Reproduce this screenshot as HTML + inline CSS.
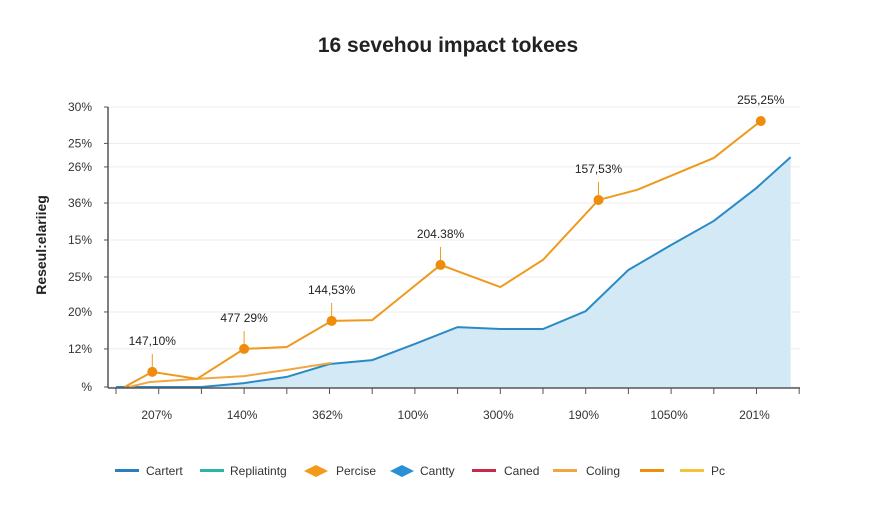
<!DOCTYPE html>
<html><head><meta charset="utf-8"><style>
body{margin:0;background:#fff;font-family:"Liberation Sans",sans-serif}
</style></head><body>
<svg id="c" width="896" height="512" xmlns="http://www.w3.org/2000/svg" font-family="Liberation Sans, sans-serif">
<rect width="896" height="512" fill="#fff"/>
<text x="448" y="52" text-anchor="middle" font-size="21" font-weight="bold" fill="#222">16 sevehou impact tokees</text>
<text transform="translate(46,245) rotate(-90)" text-anchor="middle" font-size="14" font-weight="bold" fill="#222">Reseul:elariieg</text>
<g id="grid"></g><g id="marks"></g><g id="axes"></g>
<g font-size="12" fill="#333">
<g><rect x="115" y="469" width="24" height="3" fill="#2a7fc0"/><text x="146" y="475">Cartert</text></g>
<g><rect x="200" y="469" width="24" height="3" fill="#2bb5a8"/><text x="230" y="475">Repliatintg</text></g>
<g><path d="M304,471 l12,-6 l12,6 l-12,6z" fill="#f29a1a"/><text x="336" y="475">Percise</text></g>
<g><path d="M390,471 l12,-6 l12,6 l-12,6z" fill="#2b8fd6"/><text x="420" y="475">Cantty</text></g>
<g><rect x="472" y="469" width="24" height="3" fill="#c8284e"/><text x="504" y="475">Caned</text></g>
<g><rect x="553" y="469" width="24" height="3" fill="#f2a640"/><text x="586" y="475">Coling</text></g>
<g><rect x="640" y="469" width="24" height="3" fill="#ef8f10"/></g>
<g><rect x="680" y="469" width="24" height="3" fill="#f3c33a"/><text x="711" y="475">Pc</text></g>
</g>
</svg>
<script>
const yTickVals=[100,87,78.6,65.7,52.5,39.3,26.8,13.6,0];
const yTickLabels=["30%","25%","26%","36%","15%","25%","20%","12%","%"];
const xTickLabels=["207%","140%","362%","100%","300%","190%","1050%","201%"];
const blueX=[0,2,3,4,5,6,7,8,9,10,11,12,13,14,15,15.8];
const blueY=[0,0,1.4,3.6,8.2,9.6,15.4,21.4,20.7,20.7,27.1,41.8,50.7,59.3,71.1,82.1];
const orangeX=[0.2,0.85,1.9,3,4,5.05,6,7.6,9,10,11.3,12.2,14,15.1];
const orangeY=[0,5.4,2.9,13.6,14.3,23.6,23.9,43.6,35.7,45.4,66.8,70.4,81.8,95];
const lowX=[0.3,0.8,1.9,3,4,5.05];
const lowY=[0,1.8,2.9,3.9,6.1,8.6];
const dotIdx=[1,3,5,7,10,13];
const dotLabels=["147,10%","477 29%","144,53%","204.38%","157,53%","255,25%"];
const NS="http://www.w3.org/2000/svg";
const X=i=>116+i*42.7, Y=v=>387-v*2.8;
function mk(p,t,a){const e=document.createElementNS(NS,t);for(const k in a)e.setAttribute(k,a[k]);p.appendChild(e);return e;}
const grid=document.getElementById('grid'),marks=document.getElementById('marks'),axes=document.getElementById('axes');
yTickVals.forEach((v,i)=>{
 const l=mk(grid,'line',{x1:108,x2:800,y1:Y(v),y2:Y(v),stroke:'#ececec','stroke-width':1});
 
 
 const t=mk(axes,'text',{x:92,y:Y(v)+4,'text-anchor':'end','font-size':12,fill:'#333'});t.textContent=yTickLabels[i];
 
 
 mk(axes,'line',{x1:104,x2:108,y1:Y(v),y2:Y(v),stroke:'#555'});
});
const ya=mk(axes,'line',{x1:108,x2:108,y1:107,y2:388,stroke:'#555','stroke-width':1.5});


const xa=mk(axes,'line',{x1:108,x2:800,y1:388,y2:388,stroke:'#555','stroke-width':1.5});


for(let i=0;i<=16;i++)mk(axes,'line',{x1:X(i),x2:X(i),y1:388,y2:394,stroke:'#555'});
xTickLabels.forEach((s,k)=>{const t=mk(axes,'text',{x:X(1+2*k)-2,y:419,'text-anchor':'middle','font-size':12,fill:'#333'});t.textContent=s;
 
 });
const pts=(xs,ys)=>xs.map((x,i)=>X(x)+','+Y(ys[i])).join(' ');
const area=mk(marks,'polygon',{points:X(blueX[0])+','+Y(0)+' '+pts(blueX,blueY)+' '+X(blueX[blueX.length-1])+','+Y(0),fill:'#d3eaf6'});


const bl=mk(marks,'polyline',{points:pts(blueX,blueY),fill:'none',stroke:'#2a8ac6','stroke-width':2});


const lo=mk(marks,'polyline',{points:pts(lowX,lowY),fill:'none',stroke:'#f2a640','stroke-width':2});


const ol=mk(marks,'polyline',{points:pts(orangeX,orangeY),fill:'none',stroke:'#ee9a1e','stroke-width':2});


dotIdx.forEach((j,k)=>{const cx=X(orangeX[j]),cy=Y(orangeY[j]);
 if(k<5)mk(marks,'line',{x1:cx,x2:cx,y1:cy-5,y2:cy-18,stroke:'#ee9a1e'});
 const c=mk(marks,'circle',{cx:cx,cy:cy,r:5,fill:'#f08c0c'});
 
 
 const t=mk(marks,'text',{x:cx,y:cy-(k<5?27:17),'text-anchor':'middle','font-size':12,fill:'#222'});t.textContent=dotLabels[k];
 
 
});
</script>
</body></html>
